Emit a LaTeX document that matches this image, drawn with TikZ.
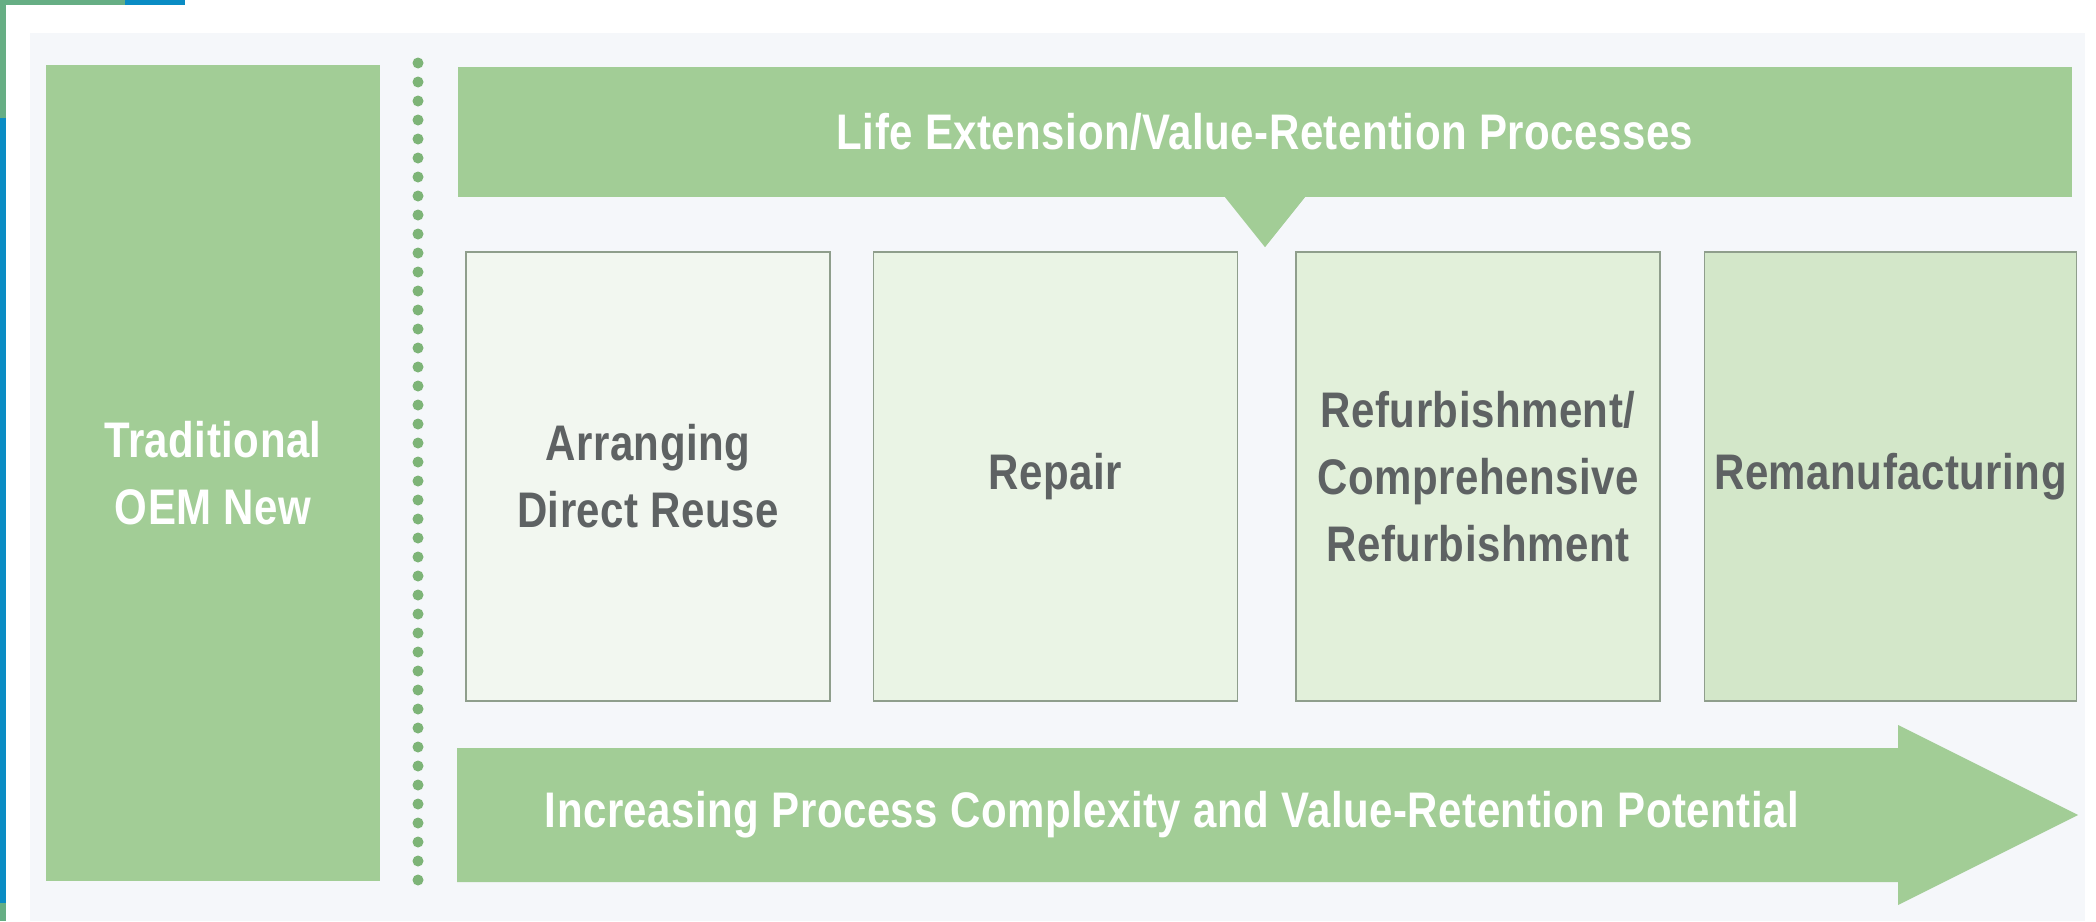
\documentclass[tikz,border=0pt]{standalone}
\usepackage{fontspec}
\newfontfamily\diagfont{Liberation Sans}[FakeStretch=0.84, LetterSpace=1]
\usetikzlibrary{positioning}
\definecolor{leafgreen}{HTML}{A2CD96}
\definecolor{dotgreen}{HTML}{7DB477}
\definecolor{panelgray}{HTML}{F5F7FA}
\definecolor{boxline}{HTML}{8F9E8C}
\definecolor{procgray}{HTML}{5E6263}
\definecolor{shadeA}{HTML}{F2F7F0}
\definecolor{shadeB}{HTML}{EAF4E5}
\definecolor{shadeC}{HTML}{E2F0DA}
\definecolor{shadeD}{HTML}{D3E7C9}
\definecolor{edgegreen}{HTML}{66AE84}
\definecolor{edgeblue}{HTML}{0A8CC4}
\tikzset{
  basefont/.style = {font=\diagfont\bfseries\fontsize{50}{67}\selectfont, align=center, inner sep=0pt},
  greenbox/.style = {basefont, fill=leafgreen, text=white},
  procbox/.style = {basefont, draw=boxline, line width=1.5pt, text=procgray, minimum width=364pt, minimum height=449pt},
  dotsep/.style = {dotgreen, line width=11pt, line cap=round, dash pattern=on 0pt off 19pt}
}
\begin{document}
\begin{tikzpicture}[x=1pt,y=-1pt]
\useasboundingbox (0,0) rectangle (2096,921);
\fill[white] (0,0) rectangle (2096,921);
% edges of the screenshot
\fill[edgegreen] (0,0) rectangle (125,5);
\fill[edgeblue] (125,0) rectangle (185,5);
\fill[edgegreen] (0,0) rectangle (6,118);
\fill[edgeblue] (0,118) rectangle (6,903);
\fill[edgegreen] (0,903) rectangle (6,921);
\fill[panelgray] (30,33) rectangle (2085,921);

\node [greenbox, minimum width=334pt, minimum height=816pt] (trad) at (213,473) {Traditional\\OEM New};
\draw [dotsep] (418,63) -- (418,883);

\node [greenbox, minimum width=1614pt, minimum height=130pt] (lifeext) at (1265,132) {Life Extension/Value-Retention Processes};
\fill [leafgreen] ([xshift=-40pt]lifeext.south) -- ([xshift=40pt]lifeext.south) -- ([yshift=-50pt]lifeext.south) -- cycle;

\node [procbox, fill=shadeA] (reuse) at (648,476.5) {Arranging\\Direct Reuse};
\node [procbox, fill=shadeB, right=42pt of reuse] (repair) {Repair};
\node [procbox, fill=shadeC, right=57pt of repair] (refurb) {Refurbishment/\\Comprehensive\\Refurbishment};
\node [procbox, fill=shadeD, right=43pt of refurb, minimum width=372pt] (reman) {Remanufacturing};

% big arrow
\fill [leafgreen] (457,748) -- (1898,748) -- (1898,725) -- (2078,815) -- (1898,905) -- (1898,882) -- (457,882) -- cycle;
\node [basefont, text=white] (potential) at (1172,815) {Increasing Process Complexity and Value-Retention Potential};
\end{tikzpicture}
\end{document}
